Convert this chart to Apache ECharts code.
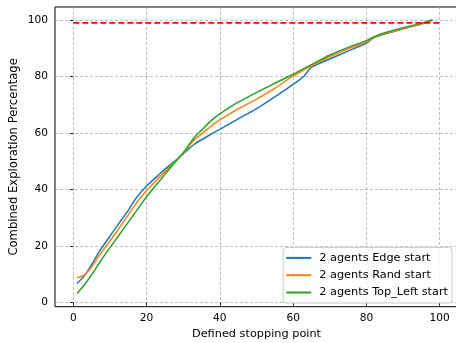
<!DOCTYPE html>
<html><head><meta charset="utf-8">
<script src="https://cdn.jsdelivr.net/npm/echarts@6/dist/echarts.min.js"></script>
<style>html,body{margin:0;padding:0;background:#fff}#c{width:456px;height:343px}</style>
</head><body><div id="c"></div>
<script>
var xs = [1,3,5,7,10,12,15,17,20,23,25,28,30,33,35,38,40,45,50,55,60,63,65,70,75,80,82,85,90,95,98];
var edgeStart = [6.7,9.4,13.4,17.8,23.5,27.2,32.6,36.7,41.2,44.8,47.2,50.4,52.6,56.0,57.6,59.9,61.3,65.0,68.6,72.8,77.2,80.2,83.3,86.2,89.0,91.8,93.8,95.0,96.9,98.6,100.0];
var randStart = [8.7,9.7,12.6,16.5,21.8,25.4,31.0,34.8,39.6,43.7,46.4,50.2,52.8,57.6,59.7,62.8,64.6,68.5,72.0,75.8,80.2,82.4,83.8,87.0,89.8,92.2,93.8,95.2,97.0,98.7,100.0];
var topLeftStart = [3.2,6.2,9.8,13.8,19.4,23.0,28.4,32.0,37.4,42.2,45.4,50.0,53.0,58.4,61.0,64.8,66.8,70.9,74.3,77.6,80.8,82.9,84.2,87.6,90.3,92.7,94.0,95.5,97.3,98.8,100.0];
var thresholdX = [0, 100];
var thresholdY = 99;
var xTicks = [0,20,40,60,80,100];
var yTicks = [0,20,40,60,80,100];
var seriesNames = ['2 agents Edge start','2 agents Rand start','2 agents Top_Left start'];
var colors = ['#1f77b4','#ff7f0e','#2ca02c'];

function pairs(ys){ return xs.map(function(x,i){ return [x, ys[i]]; }); }
var font = 'DejaVu Sans';
var chart = echarts.init(document.getElementById('c'), null, {renderer:'canvas'});
var grid = {left:55, top:7, width:403, height:299.7, show:true, borderColor:'#000', borderWidth:1,
  backgroundColor:'transparent', outerBoundsMode:'none', containLabel:false};
function axisCommon(ticks){
  return {
    axisLine:{show:false},
    axisTick:{show:true, inside:false, length:3.5, lineStyle:{color:'#000', width:0.8}, customValues:ticks},
    axisLabel:{customValues:ticks, color:'#000', fontFamily:font, fontSize:10.6},
    splitLine:{show:true, lineStyle:{color:'#b0b0b0', width:0.8, type:[3,2]}}
  };
}
var xa = axisCommon(xTicks);
xa.type='value'; xa.min=-5; xa.max=105;
xa.axisLabel.margin=6;
xa.name='Defined stopping point'; xa.nameLocation='middle'; xa.nameGap=22; xa.nameMoveOverlap=false;
xa.nameTextStyle={color:'#000', fontFamily:font, fontSize:11.3};
var ya = axisCommon(yTicks);
ya.type='value'; ya.min=-1.5; ya.max=104.6;
ya.axisLabel.margin=7;
ya.name='Combined Exploration Percentage'; ya.nameLocation='middle'; ya.nameGap=35; ya.nameMoveOverlap=false;
ya.nameTextStyle={color:'#000', fontFamily:font, fontSize:11.6};

var series = [edgeStart, randStart, topLeftStart].map(function(ys,i){
  return {name:seriesNames[i], type:'line', data:pairs(ys), showSymbol:false, symbol:'none',
    smooth:0.2, lineStyle:{color:colors[i], width:1.5}, itemStyle:{color:colors[i]}, z:2+i};
});
series.push({name:'threshold', type:'line', data:thresholdX.map(function(x){return [x, thresholdY];}),
  showSymbol:false, symbol:'none', lineStyle:{color:'#ff0000', width:1.8, type:[6,3]}, z:10});

chart.setOption({
  animation:false,
  backgroundColor:'#fff',
  grid:grid,
  xAxis:xa,
  yAxis:ya,
  legend:{
    data:seriesNames.map(function(n,i){return {name:n, icon:'rect', itemStyle:{color:colors[i]}};}),
    orient:'vertical', right:4, bottom:40,
    itemWidth:25, itemHeight:2, itemGap:4.3,
    padding:[4,4,4,3],
    backgroundColor:'rgba(255,255,255,0.8)', borderColor:'#cccccc', borderWidth:1, borderRadius:3,
    textStyle:{color:'#000', fontFamily:font, fontSize:11.3, lineHeight:13, padding:[0,0,0,3]}
  },
  series:series
});
</script></body></html>
